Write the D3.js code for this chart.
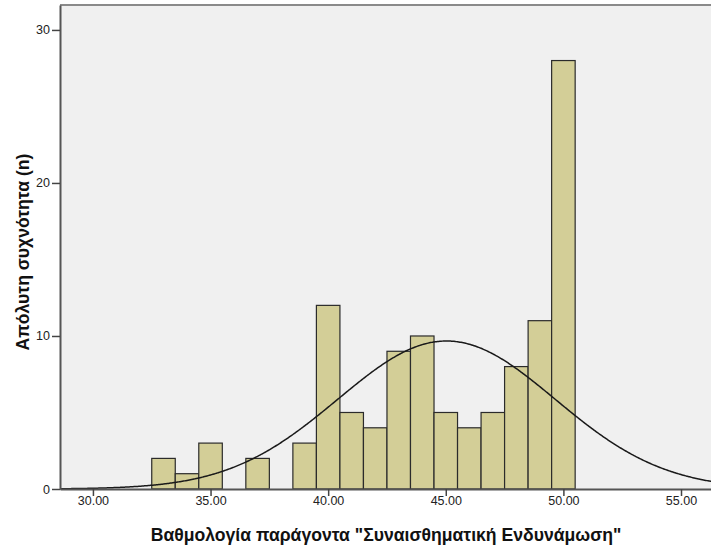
<!DOCTYPE html>
<html>
<head>
<meta charset="utf-8">
<script src="https://cdn.jsdelivr.net/npm/d3@7"></script>
<style>
  html, body { margin: 0; padding: 0; background: #fff; }
  svg { display: block; }
</style>
</head>
<body>
<div id="chart"></div>
<script>
// Histogram of factor scores (bin width 1, centred on integers)
const binCenters = [33, 34, 35, 36, 37, 38, 39, 40, 41, 42, 43, 44, 45, 46, 47, 48, 49, 50];
const binCounts  = [2, 1, 3, 0, 2, 0, 3, 12, 5, 4, 9, 10, 5, 4, 5, 8, 11, 28];
const binWidth = 1;

// Normal curve parameters
const fitMean = 45.03;
const fitSd = 4.62;
const fitN = 112;

const xTicks = [30, 35, 40, 45, 50, 55];
const yTicks = [0, 10, 20, 30];

const xTitle = 'Βαθμολογία παράγοντα "Συναισθηματική Ενδυνάμωση"';
const yTitle = 'Απόλυτη συχνότητα (n)';

const W = 711, H = 552;
const plot = { left: 60, top: 5, right: 713, bottom: 489 };

const svg = d3.select("#chart").append("svg")
  .attr("width", W).attr("height", H)
  .style("font-family", "'Liberation Sans', Arial, sans-serif");

const x = d3.scaleLinear().domain([28.6, 56.36]).range([plot.left, plot.right]);
const y = d3.scaleLinear().domain([0, 31.63]).range([plot.bottom, plot.top]);

// plot background
svg.append("rect")
  .attr("x", plot.left).attr("y", plot.top)
  .attr("width", plot.right - plot.left).attr("height", plot.bottom - plot.top)
  .attr("fill", "#f0f0f0");

// top frame line
svg.append("line")
  .attr("x1", plot.left).attr("x2", plot.right)
  .attr("y1", plot.top).attr("y2", plot.top)
  .attr("stroke", "#8a8a8a").attr("stroke-width", 2);

// bars
svg.append("g").selectAll("rect")
  .data(binCenters.map((c, i) => ({ c, n: binCounts[i] })).filter(d => d.n > 0))
  .join("rect")
  .attr("x", d => x(d.c - binWidth / 2))
  .attr("y", d => y(d.n))
  .attr("width", d => x(d.c + binWidth / 2) - x(d.c - binWidth / 2))
  .attr("height", d => y(0) - y(d.n))
  .attr("fill", "#d3ce97")
  .attr("stroke", "#2b2b2b")
  .attr("stroke-width", 1.2);

// normal curve
const curvePts = d3.range(28.6, 56.4, 0.05).map(v => [
  v,
  fitN * binWidth / (fitSd * Math.sqrt(2 * Math.PI)) *
    Math.exp(-((v - fitMean) ** 2) / (2 * fitSd * fitSd))
]);
svg.append("path")
  .datum(curvePts)
  .attr("d", d3.line().x(d => x(d[0])).y(d => y(d[1])).curve(d3.curveBasis))
  .attr("fill", "none")
  .attr("stroke", "#1a1a1a")
  .attr("stroke-width", 1.5);

// x axis
const xAxis = svg.append("g")
  .attr("transform", `translate(0,${plot.bottom})`)
  .call(d3.axisBottom(x).tickValues(xTicks).tickFormat(d3.format(".2f")).tickSize(7).tickSizeOuter(0));
xAxis.select(".domain").attr("stroke", "#555").attr("stroke-width", 2);
xAxis.selectAll(".tick line").attr("stroke", "#444").attr("stroke-width", 1.5);
xAxis.selectAll(".tick text")
  .attr("dy", "0.2em").attr("y", 13)
  .attr("fill", "#222").style("font-size", "12.5px");

// y axis
const yAxis = svg.append("g")
  .attr("transform", `translate(${plot.left},0)`)
  .call(d3.axisLeft(y).tickValues(yTicks).tickFormat(d3.format("d")).tickSize(8).tickSizeOuter(0));
yAxis.select(".domain").attr("stroke", "#555").attr("stroke-width", 2);
yAxis.selectAll(".tick line").attr("stroke", "#444").attr("stroke-width", 1.5);
yAxis.selectAll(".tick text")
  .attr("x", -10)
  .attr("fill", "#222").style("font-size", "12.5px");

// axis titles
svg.append("text")
  .attr("x", 386).attr("y", 541)
  .attr("text-anchor", "middle")
  .style("font-size", "17.6px").style("font-weight", "bold")
  .attr("fill", "#111")
  .text(xTitle);

svg.append("text")
  .attr("transform", "translate(28.5,252) rotate(-90)")
  .attr("text-anchor", "middle")
  .style("font-size", "17.6px").style("font-weight", "bold")
  .attr("fill", "#111")
  .text(yTitle);
</script>
</body>
</html>
